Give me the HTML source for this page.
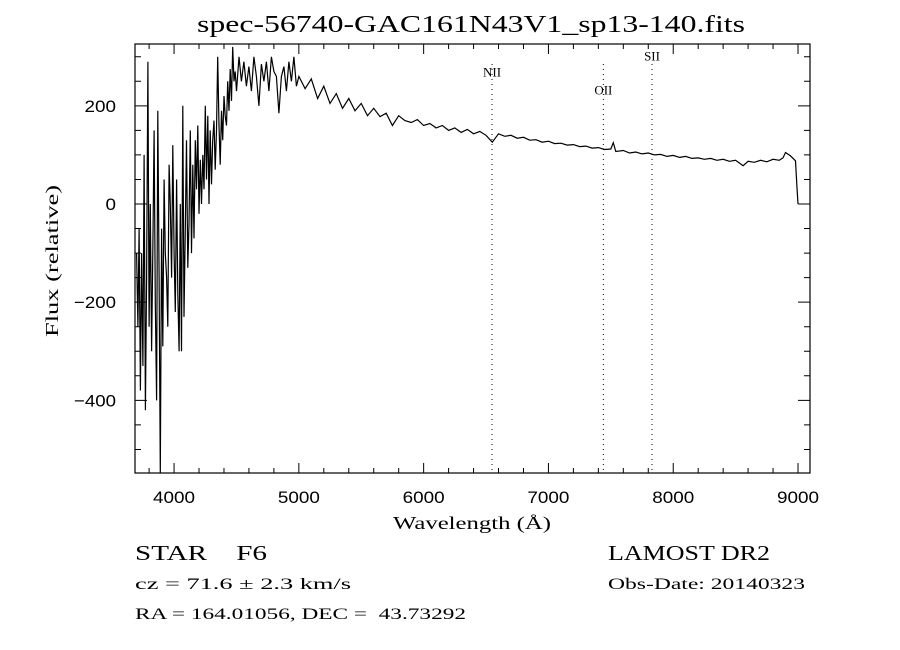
<!DOCTYPE html>
<html><head><meta charset="utf-8">
<style>
html,body{margin:0;padding:0;background:#fff;}
svg{display:block;}
text{font-family:"Liberation Serif",serif;fill:#000;}
.tk{font-family:"Liberation Sans",sans-serif;font-size:17px;}
</style></head>
<body>
<svg id="chart" width="900" height="650" viewBox="0 0 900 650" xmlns="http://www.w3.org/2000/svg">
<rect x="0" y="0" width="900" height="650" fill="#fff"/>
<text x="197" y="32" font-size="24" textLength="548" lengthAdjust="spacingAndGlyphs">spec-56740-GAC161N43V1_sp13-140.fits</text>
<g id="axes"></g>
<g id="lines"></g>
<path id="spec" fill="none" stroke="#000" stroke-width="1.2"/>
<text x="393" y="529" font-size="18" textLength="158" lengthAdjust="spacingAndGlyphs">Wavelength (Å)</text>
<text transform="translate(58,337) rotate(-90)" font-size="18" textLength="152" lengthAdjust="spacingAndGlyphs">Flux (relative)</text>
<text x="135" y="560" font-size="21" textLength="132" lengthAdjust="spacingAndGlyphs">STAR&#160;&#160;&#160;&#160;F6</text>
<text x="135" y="589" font-size="16" textLength="216" lengthAdjust="spacingAndGlyphs">cz = 71.6 ± 2.3 km/s</text>
<text x="135" y="619" font-size="16" textLength="331" lengthAdjust="spacingAndGlyphs">RA = 164.01056, DEC =&#160;&#160;43.73292</text>
<text x="608" y="560" font-size="21" textLength="162" lengthAdjust="spacingAndGlyphs">LAMOST DR2</text>
<text x="608" y="589" font-size="16" textLength="197" lengthAdjust="spacingAndGlyphs">Obs-Date: 20140323</text>
</svg>
<script>
const xTicks=[4000,5000,6000,7000,8000,9000];
const yTicks=[-400,-200,0,200];
const lineNames=["NII","OII","SII"];
const lineWl=[6548,7440,7830];
const lineLabelFlux=[260,223,292];
const wl=[3700,3710,3720,3730,3740,3750,3760,3770,3780,3790,3800,3810,3820,3830,3840,3850,3860,3870,3880,3890,3900,3910,3920,3930,3940,3950,3960,3970,3980,3990,4000,4010,4020,4030,4040,4050,4060,4070,4080,4090,4100,4110,4120,4130,4140,4150,4160,4170,4180,4190,4200,4210,4220,4230,4240,4250,4260,4270,4280,4290,4300,4310,4320,4330,4340,4350,4360,4370,4380,4390,4400,4410,4420,4430,4440,4450,4460,4470,4480,4490,4500,4520,4540,4560,4580,4600,4620,4640,4660,4680,4700,4720,4740,4760,4780,4800,4820,4840,4860,4880,4900,4920,4940,4960,4980,5000,5050,5100,5150,5200,5250,5300,5350,5400,5450,5500,5550,5600,5650,5700,5750,5800,5850,5900,5950,6000,6050,6100,6150,6200,6250,6300,6350,6400,6450,6500,6550,6600,6650,6700,6750,6800,6850,6900,6950,7000,7050,7100,7150,7200,7250,7300,7350,7400,7450,7500,7520,7540,7600,7650,7700,7750,7800,7850,7900,7950,8000,8050,8100,8150,8200,8250,8300,8350,8400,8450,8500,8560,8600,8650,8700,8750,8800,8850,8880,8900,8940,8980,8990,9000];
const flux=[-100,-250,-50,-380,-100,-330,100,-420,-150,290,-250,0,-300,-100,150,-200,-400,190,-150,-550,-50,-290,50,-100,-150,-250,80,0,-150,120,-100,-220,50,-180,-300,0,-300,200,-230,-50,130,-130,-40,150,-100,80,-70,130,30,160,-20,90,0,100,30,200,50,180,0,150,40,130,170,70,150,300,160,80,190,130,220,180,160,250,190,275,210,320,250,270,230,300,250,290,240,280,230,300,260,200,285,250,290,230,300,270,260,185,260,280,230,290,250,300,240,260,235,255,215,240,205,225,195,215,190,205,180,195,178,185,160,180,170,166,172,160,164,155,160,150,155,146,152,143,148,140,126,143,138,140,134,136,130,131,126,128,123,124,120,121,117,118,114,115,111,112,125,107,109,104,106,102,104,100,101,97,99,95,97,93,94,91,93,89,91,87,89,78,87,85,89,86,91,89,94,105,98,88,40,0];
const L=135,R=810,T=44,B=473;
const X0=3687,X1=9096,Y0=-548,Y1=326;
function xs(v){return L+(v-X0)/(X1-X0)*(R-L);}
function ys(v){return B-(v-Y0)/(Y1-Y0)*(B-T);}
const NS="http://www.w3.org/2000/svg";
function mk(tag,attrs,parent){const e=document.createElementNS(NS,tag);for(const k in attrs)e.setAttribute(k,attrs[k]);parent.appendChild(e);return e;}
const ax=document.getElementById('axes');
const frame=mk('rect',{x:L,y:T,width:R-L,height:B-T,fill:'none',stroke:'#000','stroke-width':1.2},ax);


let d='';
for(let v=3800;v<=9000;v+=200){const x=xs(v);const len=(v%1000===0)?10:5;d+=`M${x},${B}V${B-len}M${x},${T}V${T+len}`;}
for(let v=-500;v<=300;v+=50){const y=ys(v);const len=(v%200===0)?12:6;d+=`M${L},${y}H${L+len}M${R},${y}H${R-len}`;}
const tp=mk('path',{d:d,stroke:'#000','stroke-width':1,fill:'none'},ax);


xTicks.forEach(v=>{const t=mk('text',{x:xs(v)-21,y:B+30,class:'tk',textLength:42,lengthAdjust:'spacingAndGlyphs'},ax);t.textContent=v;

});
yTicks.forEach(v=>{const s=String(v).replace('-','\u2212');const w=s.length*10.5;const t=mk('text',{x:L-19-w,y:ys(v)+6,class:'tk',textLength:w,lengthAdjust:'spacingAndGlyphs'},ax);t.textContent=s;

});
const lg=document.getElementById('lines');
lineWl.forEach((w,i)=>{const x=xs(w);
const l=mk('line',{x1:x,x2:x,y1:T+20,y2:B,stroke:'#000','stroke-width':1,'stroke-dasharray':'1,4'},lg);


const t=mk('text',{x:x,y:ys(lineLabelFlux[i]),'text-anchor':'middle','font-size':13},lg);t.textContent=lineNames[i];

});
let p='';
wl.forEach((w,i)=>{const y=Math.max(T,Math.min(B,ys(flux[i])));p+=(i?'L':'M')+xs(w).toFixed(1)+','+y.toFixed(1);});
document.getElementById('spec').setAttribute('d',p);
</script>
</body></html>
